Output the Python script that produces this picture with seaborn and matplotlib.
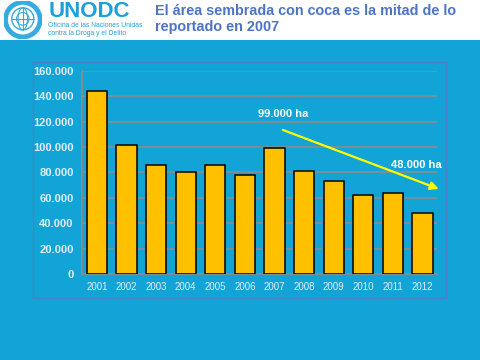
import pandas as pd
import seaborn as sns
import matplotlib.pyplot as plt
from matplotlib.patches import Rectangle, Circle, Ellipse

years = ['2001', '2002', '2003', '2004', '2005', '2006',
         '2007', '2008', '2009', '2010', '2011', '2012']
hectares = [144000, 102000, 86000, 80000, 86000, 78000,
            99000, 81000, 73000, 62000, 64000, 48000]
y_ticks = [0, 20000, 40000, 60000, 80000, 100000, 120000, 140000, 160000]
y_tick_labels = ['0', '20.000', '40.000', '60.000', '80.000',
                 '100.000', '120.000', '140.000', '160.000']
title = 'El área sembrada con coca es la mitad de lo\nreportado en 2007'
note_start = '99.000 ha'
note_end = '48.000 ha'

bg = '#12A4D6'
df = pd.DataFrame({'year': years, 'ha': hectares})

sns.set_style('white')
plt.rcParams['font.family'] = ['Liberation Sans', 'DejaVu Sans']

fig = plt.figure(figsize=(4.8, 3.6), dpi=100)
fig.patch.set_facecolor(bg)

# white header band
fig.add_artist(Rectangle((0, 0.889), 1, 0.111, transform=fig.transFigure,
                         facecolor='white', edgecolor='none', zorder=0))
# chart panel frame
fig.add_artist(Rectangle((0.069, 0.172), 0.860, 0.656, transform=fig.transFigure,
                         facecolor='none', edgecolor='#4C82C3', linewidth=1.0, zorder=0))

# UN emblem (rough)
logo = fig.add_axes([0.005, 0.893, 0.085, 0.105])
logo.set_xlim(-1.2, 1.2)
logo.set_ylim(-1.2, 1.2)
logo.set_aspect('equal')
logo.axis('off')
logo_col = '#35ABE0'
logo.add_patch(Circle((0, 0), 1.1, facecolor='none', edgecolor=logo_col, linewidth=3.5))
logo.add_patch(Circle((0, 0.05), 0.7, facecolor='none', edgecolor=logo_col, linewidth=1.0))
logo.add_patch(Circle((0, 0.05), 0.4, facecolor='none', edgecolor=logo_col, linewidth=0.8))
logo.add_patch(Ellipse((0, 0.05), 0.6, 1.4, facecolor='none', edgecolor=logo_col, linewidth=0.8))
logo.plot([-0.7, 0.7], [0.05, 0.05], color=logo_col, lw=0.8)
logo.plot([0, 0], [-0.65, 0.75], color=logo_col, lw=0.8)

fig.text(0.101, 0.968, 'UNODC', fontsize=16, fontweight='bold', color='#1CA0DC',
         va='center', ha='left')
fig.text(0.101, 0.917, 'Oficina de las Naciones Unidas\ncontra la Droga y el Delito',
         fontsize=4.9, color='#2AA0D8', va='center', ha='left', linespacing=1.2)
fig.text(0.322, 0.947, title, fontsize=10.4, fontweight='bold', color='#4F74C6',
         va='center', ha='left', linespacing=1.2)

ax = fig.add_axes([0.171, 0.239, 0.740, 0.564])
ax.set_facecolor(bg)
sns.barplot(data=df, x='year', y='ha', color='#FFC000', edgecolor='black',
            linewidth=1.1, width=0.68, saturation=1, ax=ax, zorder=3)

ax.set_ylim(0, 160000)
ax.set_xlim(-0.5, 11.5)
ax.set_yticks(y_ticks)
ax.set_yticklabels(y_tick_labels)
ax.yaxis.grid(True, color='#8C8C8C', linewidth=1.2, zorder=0)
ax.set_axisbelow(True)
ax.tick_params(axis='y', colors='#E2EEF6', labelsize=8, length=0, pad=6)
ax.tick_params(axis='x', colors='#E2EEF6', labelsize=7, length=0, pad=6)
for lbl in ax.get_yticklabels():
    lbl.set_fontweight('bold')
ax.set_xlabel('')
ax.set_ylabel('')
for side in ['top', 'right']:
    ax.spines[side].set_visible(False)
for side in ['left', 'bottom']:
    ax.spines[side].set_color('#8C8C8C')
    ax.spines[side].set_linewidth(1.2)

ax.annotate('', xy=(11.55, 67000), xytext=(6.28, 113500),
            arrowprops=dict(arrowstyle='-|>', color='#FFFF00', lw=1.6,
                            mutation_scale=12, shrinkA=0, shrinkB=0),
            annotation_clip=False, zorder=5)
ax.text(6.28, 126000, note_start, color='white', fontsize=8, fontweight='bold',
        ha='center', va='center', zorder=6)
ax.text(10.8, 86000, note_end, color='white', fontsize=8, fontweight='bold',
        ha='center', va='center', zorder=6)

fig.savefig('out.png', dpi=100, facecolor=fig.get_facecolor())
